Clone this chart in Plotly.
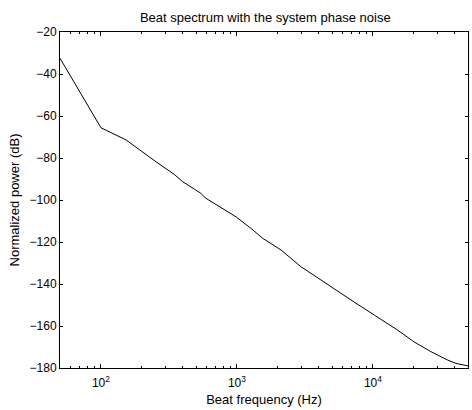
import plotly.graph_objects as go
import math

freq_hz = [50, 100, 153, 208, 254, 346, 399, 486, 543, 585, 681, 984, 1268, 1544,
           2109, 2958, 4150, 4910, 5820, 6890, 10240, 15140, 19990, 26680, 35380,
           40780, 50000]
power_db = [-32.5, -65.6, -71.4, -77.8, -81.8, -87.8, -91.3, -94.8, -96.8, -99.0,
            -101.6, -108.0, -113.5, -118.2, -123.8, -131.8, -138.1, -141.3, -144.4,
            -147.6, -154.8, -161.9, -167.5, -172.2, -176.2, -177.8, -179.0]

x_tickvals = [100, 1000, 10000]
x_ticktext = ["10<sup>2</sup>", "10<sup>3</sup>", "10<sup>4</sup>"]
y_tickvals = [-20, -40, -60, -80, -100, -120, -140, -160, -180]

font = dict(family="Arial, Liberation Sans, sans-serif", size=12, color="black")

fig = go.Figure()
fig.add_trace(go.Scatter(x=freq_hz, y=power_db, mode="lines",
                         line=dict(color="black", width=1), showlegend=False))

fig.update_layout(
    width=472, height=410,
    margin=dict(l=60, r=4, t=32, b=42),
    paper_bgcolor="white", plot_bgcolor="white",
    font=font,
    title=dict(text="Beat spectrum with the system phase noise", x=0.562, xanchor="center",
               y=0.957, yanchor="middle", font=dict(size=13)),
    xaxis=dict(type="log", range=[math.log10(50), math.log10(50000)],
               tickvals=x_tickvals, ticktext=x_ticktext, automargin=False,
               ticks="inside", ticklen=4, tickcolor="black", ticklabelstandoff=4,
               showline=True, linecolor="black", linewidth=1, mirror="ticks",
               showgrid=False, zeroline=False,
               minor=dict(ticks="inside", ticklen=2, tickcolor="black", dtick="D1", showgrid=False),
               title=dict(text="Beat frequency (Hz)", standoff=5, font=dict(size=13))),
    yaxis=dict(range=[-180, -20], tickvals=y_tickvals, automargin=False,
               ticks="inside", ticklen=3, tickcolor="black",
               showline=True, linecolor="black", linewidth=1, mirror="ticks",
               showgrid=False, zeroline=False,
               title=dict(text="Normalized power (dB)", standoff=7, font=dict(size=13))),
)

fig.write_html("out.html", config={"displayModeBar": False},
               post_script="document.body.style.margin='0';document.body.style.overflow='hidden';")
